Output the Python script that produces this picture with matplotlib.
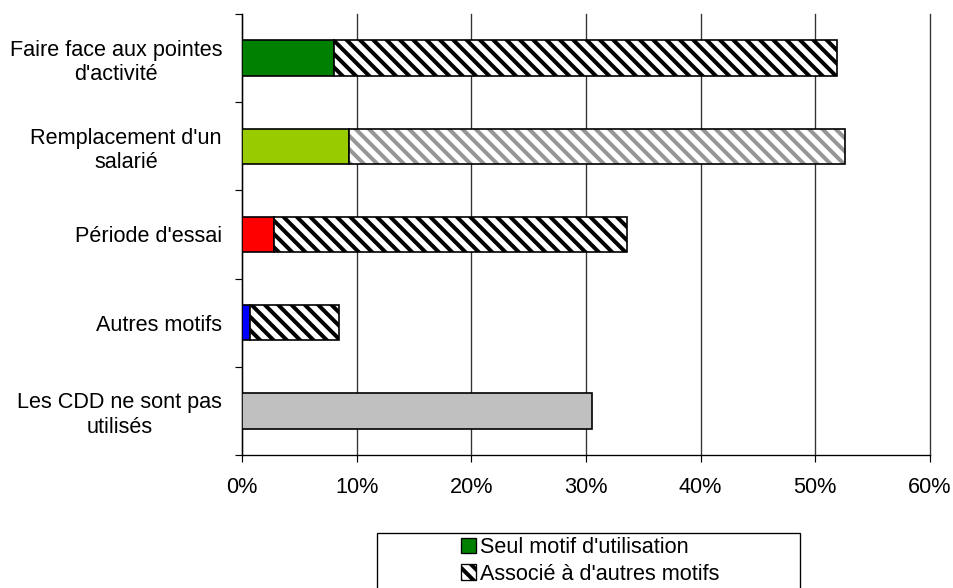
import numpy as np
import matplotlib.pyplot as plt
from matplotlib.patches import Patch, Rectangle

plt.rcParams['font.family'] = ['Liberation Sans', 'DejaVu Sans']
plt.rcParams['hatch.linewidth'] = 2.4

# Motifs de recours aux CDD (en %)
motifs = ["Faire face aux pointes\nd'activité",
          "Remplacement d'un\nsalarié",
          "Période d'essai",
          "Autres motifs",
          "Les CDD ne sont pas\nutilisés"]
seul = [8.0, 9.3, 2.8, 0.7, 30.5]        # seul motif d'utilisation
total = [51.9, 52.6, 33.6, 8.5, 30.5]    # seul + associé à d'autres motifs
couleurs = ['#008000', '#99CC00', '#FF0000', '#0000FF', '#C0C0C0']
hachures = ['#000000', '#969696', '#000000', '#000000', None]

associe = [t - s for t, s in zip(total, seul)]

fig = plt.figure(figsize=(953 / 120, 588 / 120), dpi=120)
ax = fig.add_axes([242 / 953, 1 - 455 / 588, (930 - 242) / 953, (455 - 14) / 588])

y = np.arange(len(motifs))
h = 0.4
for i in range(len(motifs)):
    ax.barh(y[i], seul[i], height=h, color=couleurs[i], edgecolor='black',
            linewidth=1.0, zorder=3)
    if hachures[i] is not None and associe[i] > 0:
        # hachures d'abord, puis le contour noir par-dessus
        ax.barh(y[i], associe[i], left=seul[i], height=h, color='white',
                edgecolor=hachures[i], hatch='\\\\\\', linewidth=0, zorder=3)
        ax.barh(y[i], associe[i], left=seul[i], height=h, fill=False,
                edgecolor='black', linewidth=1.0, zorder=4)

ax.set_xlim(0, 60)
ax.set_ylim(len(motifs) - 0.5, -0.5)
ax.set_xticks(np.arange(0, 61, 10))
ax.set_xticklabels([f'{v}%' for v in range(0, 61, 10)], fontsize=13)
ax.set_yticks(np.arange(-0.5, len(motifs)))
ax.set_yticklabels([])
ax.set_yticks(y, minor=True)
ax.set_yticklabels(motifs, minor=True, fontsize=13, ha='right', multialignment='center')
ax.tick_params(axis='y', which='minor', length=0, pad=12)
ax.tick_params(axis='y', which='major', length=4, width=0.7, direction='out')
ax.tick_params(axis='x', length=4, width=0.7, direction='out', pad=9)

ax.grid(axis='x', color='#333333', linewidth=0.8, zorder=0, clip_on=False)
for s in ['top', 'right']:
    ax.spines[s].set_visible(False)
for s in ['left', 'bottom']:
    ax.spines[s].set_linewidth(0.8)

# Légende
fig.patches.append(Rectangle((377 / 953, -0.1), (800 - 377) / 953, 0.1 + 1 - 533 / 588,
                             transform=fig.transFigure, fill=False,
                             edgecolor='black', linewidth=0.8))
poignees = [Patch(facecolor='#008000', edgecolor='black', linewidth=0.8),
            Patch(facecolor='white', edgecolor='black', hatch='\\\\\\', linewidth=0.8)]
fig.legend(poignees, ["Seul motif d'utilisation", "Associé à d'autres motifs"],
           loc='upper center', bbox_to_anchor=(590 / 953, 1 - 522 / 588),
           frameon=False, fontsize=13, handlelength=0.7, handleheight=0.7,
           handletextpad=0.2, labelspacing=0.25, borderpad=0.2)

fig.savefig('out.png', dpi=120)
